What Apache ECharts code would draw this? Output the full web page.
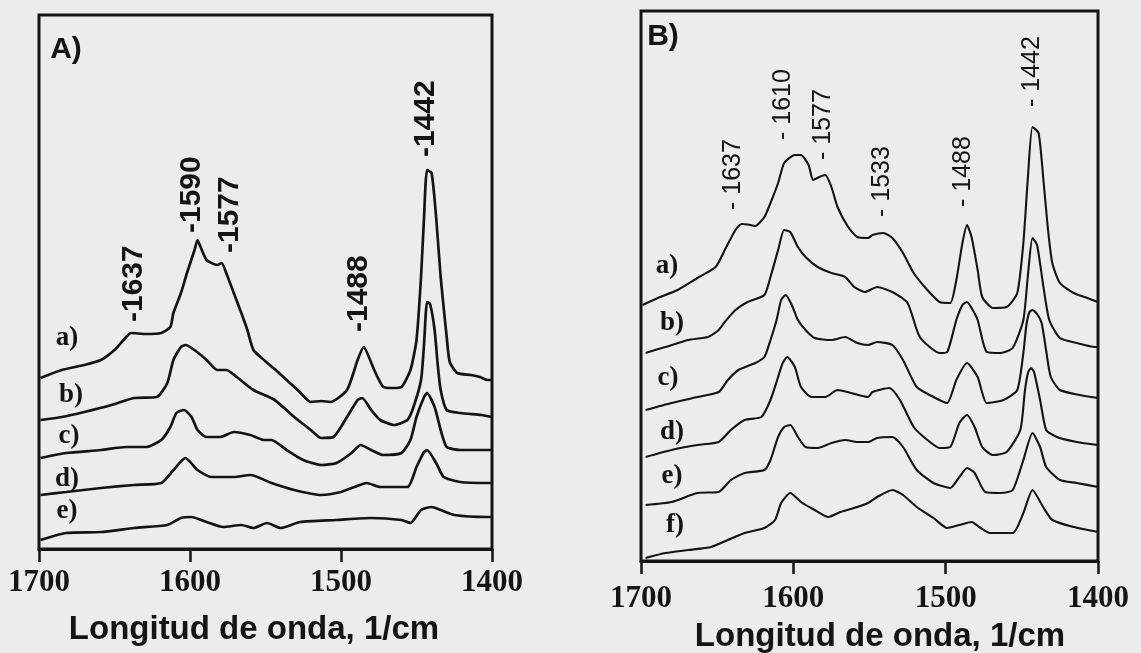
<!DOCTYPE html>
<html>
<head>
<meta charset="utf-8">
<script src="https://cdn.jsdelivr.net/npm/echarts@6/dist/echarts.min.js"></script>
<style>
  html, body { margin: 0; padding: 0; background: #ececec; }
  #chart { width: 1141px; height: 653px; }
</style>
</head>
<body>
<div id="chart"></div>
<script>
// Wavenumber axis (1/cm), shared by both panels
const waveTicks = [1700, 1600, 1500, 1400];

// Panel A spectra: [wavenumber, intensity (a.u., stacked)]
const specA_a = [[1699,171],[1685,179],[1670,184],[1659,189],[1650,199],[1644,209],[1639,216],[1629,215],[1619,216],[1613,222],[1611,236],[1606,256],[1602,276],[1597,299],[1595,309],[1593,302],[1589,289],[1582,284],[1579,286],[1576,276],[1571,256],[1566,236],[1562,219],[1558,199],[1551,189],[1544,180],[1536,169],[1528,158],[1520,147],[1513,148],[1507,147],[1496,159],[1489,189],[1485,202],[1478,179],[1472,162],[1466,161],[1460,162],[1454,179],[1450,209],[1447,272],[1445,332],[1443,379],[1440,376],[1437,332],[1434,272],[1430,212],[1428,187],[1423,176],[1414,174],[1408,172],[1403,169],[1400,169]];
const specA_b = [[1699,129],[1685,132],[1670,137],[1652,144],[1637,151],[1622,152],[1615,166],[1611,189],[1606,202],[1603,204],[1597,199],[1589,189],[1582,179],[1576,179],[1569,172],[1558,159],[1544,149],[1531,132],[1520,119],[1513,111],[1505,112],[1496,132],[1489,149],[1486,151],[1480,139],[1474,129],[1465,124],[1456,129],[1452,142],[1447,169],[1445,205],[1444,232],[1443,247],[1441,245],[1438,219],[1436,185],[1434,159],[1430,139],[1421,136],[1407,134],[1400,132]];
const specA_c = [[1699,91],[1682,96],[1659,99],[1642,102],[1629,102],[1619,109],[1613,122],[1609,136],[1604,139],[1599,132],[1595,119],[1589,112],[1580,112],[1571,117],[1560,114],[1551,109],[1546,109],[1536,99],[1525,89],[1513,84],[1503,86],[1493,96],[1487,104],[1480,99],[1472,94],[1460,96],[1454,109],[1450,132],[1445,152],[1443,156],[1438,142],[1434,119],[1430,102],[1421,99],[1403,99],[1400,99]];
const specA_d = [[1699,54],[1682,57],[1659,61],[1637,64],[1619,66],[1611,79],[1603,91],[1595,79],[1586,72],[1571,72],[1560,74],[1546,66],[1531,59],[1513,54],[1500,57],[1491,62],[1483,66],[1474,62],[1456,62],[1450,82],[1445,97],[1443,99],[1437,86],[1432,72],[1421,67],[1403,66],[1400,66]];
const specA_e = [[1699,9],[1682,16],[1659,17],[1637,21],[1615,24],[1606,31],[1599,32],[1589,27],[1578,22],[1566,24],[1558,21],[1549,26],[1540,21],[1527,27],[1503,29],[1480,31],[1460,29],[1454,26],[1447,39],[1440,42],[1434,39],[1425,34],[1403,32],[1400,32]];

// Panel B spectra
const specB_a = [[1699,256],[1689,263],[1676,271],[1663,283],[1651,294],[1645,311],[1638,331],[1634,337],[1628,336],[1625,335],[1619,344],[1615,358],[1610,378],[1606,398],[1599,406],[1595,406],[1590,396],[1587,381],[1583,384],[1579,386],[1575,374],[1571,354],[1564,334],[1558,324],[1551,323],[1548,326],[1541,328],[1535,323],[1528,308],[1521,288],[1512,271],[1504,259],[1497,258],[1493,281],[1489,318],[1486,336],[1483,324],[1479,291],[1476,264],[1469,253],[1460,254],[1453,268],[1449,318],[1446,384],[1443,434],[1439,428],[1436,384],[1433,334],[1430,298],[1425,278],[1416,268],[1407,263],[1400,259]];
const specB_b = [[1697,208],[1684,214],[1669,221],[1656,224],[1649,231],[1645,239],[1638,251],[1630,259],[1619,266],[1615,284],[1610,311],[1606,331],[1602,329],[1597,314],[1592,304],[1584,294],[1575,288],[1566,284],[1560,274],[1553,269],[1545,274],[1535,269],[1525,258],[1517,224],[1504,208],[1499,209],[1493,241],[1489,256],[1486,259],[1483,253],[1479,241],[1473,209],[1464,208],[1456,213],[1449,241],[1446,286],[1443,323],[1440,316],[1436,276],[1432,241],[1425,223],[1414,218],[1402,214],[1400,214]];
const specB_c = [[1697,151],[1680,158],[1663,164],[1649,169],[1643,181],[1636,191],[1625,198],[1619,204],[1615,221],[1611,241],[1608,261],[1605,266],[1601,256],[1597,241],[1592,231],[1586,223],[1575,221],[1566,224],[1558,218],[1551,216],[1545,219],[1535,216],[1528,201],[1519,174],[1508,164],[1499,158],[1493,181],[1486,198],[1479,184],[1473,158],[1462,161],[1453,171],[1449,208],[1447,236],[1445,249],[1443,251],[1440,247],[1437,238],[1434,210],[1431,184],[1425,171],[1412,166],[1400,163]];
const specB_d = [[1697,104],[1680,111],[1663,116],[1649,119],[1641,131],[1632,141],[1621,144],[1615,161],[1610,184],[1607,198],[1604,204],[1599,194],[1595,174],[1588,164],[1579,164],[1571,171],[1562,168],[1551,164],[1548,169],[1537,173],[1530,161],[1521,134],[1512,121],[1504,113],[1497,114],[1491,138],[1486,146],[1481,134],[1476,114],[1469,106],[1460,109],[1451,131],[1448,170],[1446,188],[1444,193],[1442,189],[1438,161],[1434,131],[1427,124],[1414,119],[1400,116]];
const specB_e = [[1697,56],[1680,59],[1663,68],[1649,69],[1641,81],[1632,88],[1619,91],[1615,101],[1610,124],[1606,134],[1602,136],[1597,124],[1592,114],[1584,113],[1575,118],[1566,121],[1558,119],[1551,119],[1545,123],[1535,124],[1528,114],[1519,91],[1508,78],[1497,73],[1491,84],[1486,93],[1481,88],[1474,69],[1464,68],[1456,71],[1449,101],[1443,128],[1438,114],[1434,94],[1425,81],[1414,78],[1400,74]];
const specB_f = [[1697,3],[1684,8],[1669,11],[1654,14],[1643,21],[1632,28],[1619,33],[1612,41],[1608,58],[1602,68],[1595,59],[1586,51],[1577,44],[1569,49],[1558,54],[1551,58],[1545,64],[1535,71],[1528,66],[1519,54],[1508,43],[1499,33],[1491,36],[1483,39],[1477,33],[1471,28],[1456,28],[1449,48],[1443,71],[1436,54],[1430,41],[1416,34],[1400,29]];

// Band assignments (1/cm) and the intensity where each annotation starts
const peaksA = [1637, 1590, 1577, 1488, 1442];
const peakBaseA = [227, 316, 296, 217, 392];
const peaksB = [1637, 1610, 1577, 1533, 1488, 1442];
const peakBaseB = [351, 421, 401, 344, 354, 454];

// Curve names
const namesA = ['a)', 'b)', 'c)', 'd)', 'e)'];
const namesB = ['a)', 'b)', 'c)', 'd)', 'e)', 'f)'];
const axisTitle = 'Longitud de onda, 1/cm';

const INK = '#141414';
const BG = '#ececec';
const chart = echarts.init(document.getElementById('chart'), null, { renderer: 'canvas' });

function waveAxis(gridIndex, labelMargin) {
  return {
    type: 'value', gridIndex: gridIndex,
    min: waveTicks[waveTicks.length - 1], max: waveTicks[0], interval: 100,
    inverse: true,
    axisLine: { show: true, onZero: false, lineStyle: { color: INK, width: 3 } },
    axisTick: { show: true, inside: false, length: 13, lineStyle: { color: INK, width: 2.5 } },
    axisLabel: {
      show: true, margin: labelMargin, verticalAlign: 'middle',
      formatter: v => String(v),
      fontFamily: '"Liberation Serif", "Times New Roman", serif',
      fontWeight: 'bold', fontSize: 31, color: INK,
      showMinLabel: true, showMaxLabel: true
    },
    splitLine: { show: false }
  };
}
function intensityAxis(gridIndex, top) {
  return { type: 'value', gridIndex: gridIndex, min: 0, max: top, show: false, splitLine: { show: false } };
}

function spectrum(data, axis, width) {
  return {
    type: 'line', xAxisIndex: axis, yAxisIndex: axis, data: data,
    showSymbol: false, symbol: 'none', smooth: 0.2, silent: true,
    lineStyle: { color: INK, width: width }
  };
}

function txt(text, x, y, font) {
  return {
    type: 'text', x: x, y: y, silent: true,
    style: { text: text, font: font, fill: INK, align: 'center', verticalAlign: 'middle' }
  };
}

const serifName = 'bold 27px "Liberation Serif", "Times New Roman", serif';
const sansTitle = 'bold 33px "Liberation Sans", Arial, sans-serif';
const panelFont = 'bold 30px "Liberation Sans", Arial, sans-serif';
const peakFontA = 'bold 30px "Liberation Sans", Arial, sans-serif';
const peakFontB = '25px "Liberation Sans", Arial, sans-serif';
const namePosA = [[67,338],[71,395],[69,436],[67,479],[67,511]];
const namePosB = [[667,266],[672,323],[668,378],[672,432],[672,476],[675,525]];
// small sideways nudges (px) so neighbouring band labels do not collide
const nudgeA = [0, -13, 5, 0, -3];
const nudgeB = [-4, 5, -5, -13, -1, -2];

chart.setOption({
  animation: false,
  backgroundColor: BG,
  grid: [
    { left: 39, top: 15, width: 453, height: 534, show: true, borderColor: INK, borderWidth: 3, backgroundColor: 'transparent' },
    { left: 641, top: 11, width: 457, height: 550, show: true, borderColor: INK, borderWidth: 3, backgroundColor: 'transparent' }
  ],
  xAxis: [waveAxis(0, 34), waveAxis(1, 38)],
  yAxis: [intensityAxis(0, 534), intensityAxis(1, 550)],
  series: [
    spectrum(specA_a, 0, 2.7), spectrum(specA_b, 0, 2.7), spectrum(specA_c, 0, 2.7),
    spectrum(specA_d, 0, 2.7), spectrum(specA_e, 0, 2.7),
    spectrum(specB_a, 1, 2.1), spectrum(specB_b, 1, 2.1), spectrum(specB_c, 1, 2.1),
    spectrum(specB_d, 1, 2.1), spectrum(specB_e, 1, 2.1), spectrum(specB_f, 1, 2.1)
  ]
});

// Band annotations: vertical text anchored at each band position on the wavenumber scale
function bandLabels(peaks, bases, nudges, gridIndex, prefix, font) {
  return peaks.map((w, i) => {
    const p = chart.convertToPixel({ gridIndex: gridIndex }, [w, bases[i]]);
    return {
      type: 'text', x: p[0] + nudges[i], y: p[1], rotation: Math.PI / 2, silent: true,
      style: { text: prefix + w, font: font, fill: INK, align: 'left', verticalAlign: 'middle' }
    };
  });
}

const graphics = [
  txt('A)', 66, 50, panelFont),
  txt('B)', 663, 37, panelFont),
  txt(axisTitle, 254, 630, sansTitle),
  txt(axisTitle, 880, 637, sansTitle)
]
  .concat(namesA.map((n, i) => txt(n, namePosA[i][0], namePosA[i][1], serifName)))
  .concat(namesB.map((n, i) => txt(n, namePosB[i][0], namePosB[i][1], serifName)))
  .concat(bandLabels(peaksA, peakBaseA, nudgeA, 0, '-', peakFontA))
  .concat(bandLabels(peaksB, peakBaseB, nudgeB, 1, '- ', peakFontB));

chart.setOption({ graphic: graphics });
</script>
</body>
</html>
